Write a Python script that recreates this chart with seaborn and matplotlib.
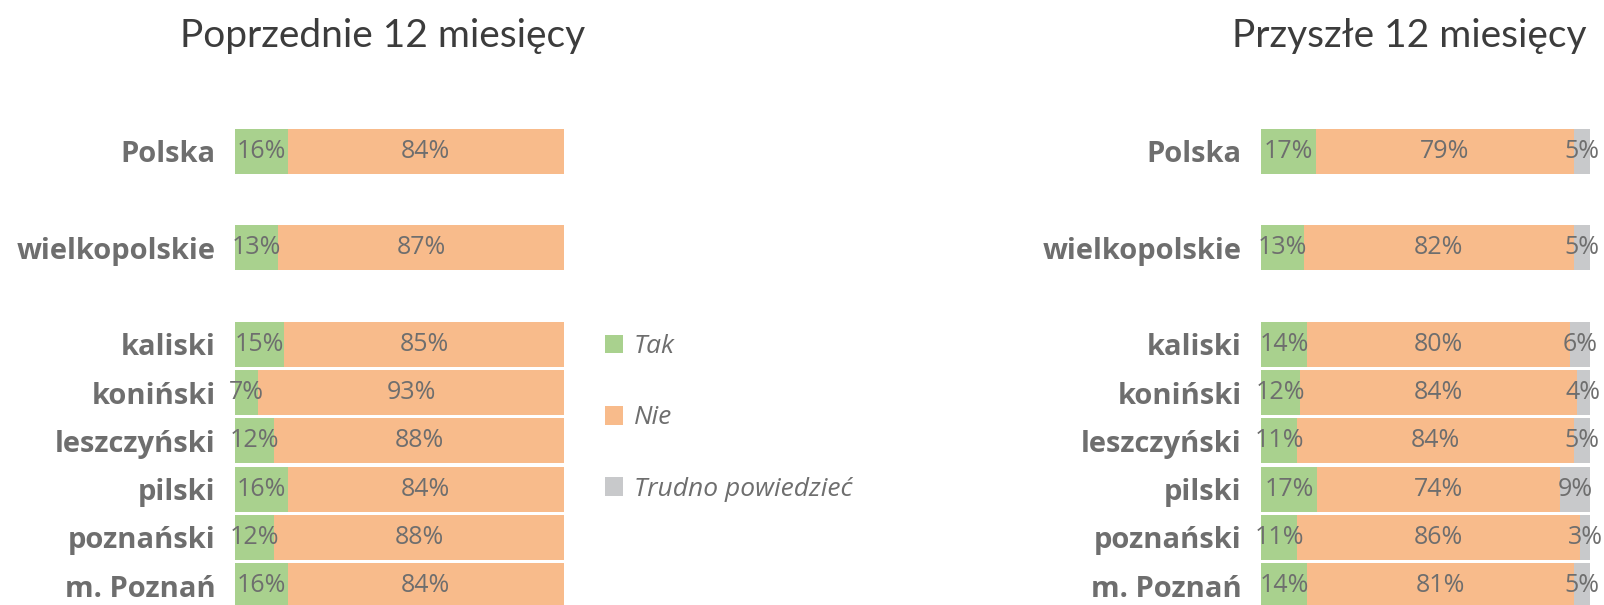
"""
Stacked horizontal bars: previous vs next 12 months, by subregion.
"""

import pandas as pd
import matplotlib.pyplot as plt
import seaborn as sns
from matplotlib.patches import Patch

# Data
regions = ["Polska", "wielkopolskie", "kaliski", "koniński",
           "leszczyński", "pilski", "poznański", "m. Poznań"]
# empty slots give the gaps after Polska and wielkopolskie
slot_order = ["Polska", "", "wielkopolskie", " ", "kaliski", "koniński",
              "leszczyński", "pilski", "poznański", "m. Poznań"]

prev_tak = [16, 13, 15, 7, 12, 16, 12, 16]
prev_nie = [84, 87, 85, 93, 88, 84, 88, 84]
prev_trudno = [0, 0, 0, 0, 0, 0, 0, 0]

next_tak = [17, 13, 14, 12, 11, 17, 11, 14]
next_nie = [79, 82, 80, 84, 84, 74, 86, 81]
next_trudno = [5, 5, 6, 4, 5, 9, 3, 5]

series_names = ["Tak", "Nie", "Trudno powiedzieć"]
colors = ["#A9D18E", "#F8BB8B", "#C8C9CB"]
text_gray = "#6E6E6E"

sns.set_theme(style="white")
plt.rcParams["font.family"] = ["Open Sans", "DejaVu Sans"]


def draw_panel(ax, tak, nie, trudno):
    df = pd.DataFrame({"region": regions, "tak": tak, "nie": nie, "trudno": trudno})
    total = df["tak"] + df["nie"] + df["trudno"]
    # cumulative shares so each bar fills 0-100
    df["c1"] = df["tak"] / total * 100
    df["c2"] = (df["tak"] + df["nie"]) / total * 100
    df["c3"] = 100.0

    for col, color in [("c3", colors[2]), ("c2", colors[1]), ("c1", colors[0])]:
        sns.barplot(data=df, y="region", x=col, order=slot_order, color=color,
                    saturation=1, width=0.93, errorbar=None, linewidth=0, ax=ax)

    # value labels centred in each segment
    for _, row in df.iterrows():
        y = slot_order.index(row["region"])
        segs = [(0, row["c1"], row["tak"]),
                (row["c1"], row["c2"], row["nie"]),
                (row["c2"], row["c3"], row["trudno"])]
        for start, end, val in segs:
            if val > 0:
                ax.text((start + end) / 2, y, f"{val}%", ha="center", va="center",
                        fontsize=18, color=text_gray)

    ax.set_xlim(0, 100)
    ax.set_ylim(9.4, -0.5)
    ax.set_xlabel("")
    ax.set_ylabel("")
    ax.set_xticks([])
    ax.tick_params(axis="y", length=0, pad=14)
    for lbl in ax.get_yticklabels():
        lbl.set_fontsize(21)
        lbl.set_fontweight("bold")
        lbl.set_color(text_gray)
    sns.despine(ax=ax, left=True, bottom=True)


fig = plt.figure(figsize=(16.04, 6.05), dpi=100)
ax_left = fig.add_axes([235 / 1604, 0, 329 / 1604, 478 / 605])
ax_right = fig.add_axes([1261 / 1604, 0, 329 / 1604, 478 / 605])

draw_panel(ax_left, prev_tak, prev_nie, prev_trudno)
draw_panel(ax_right, next_tak, next_nie, next_trudno)

title_font = ["Lato", "DejaVu Sans"]
fig.text(383 / 1604, 1 - 36 / 605, "Poprzednie 12 miesięcy", ha="center", va="center",
         fontsize=28, fontweight="normal", color="#3C3C3C", family=title_font)
fig.text(1586 / 1604, 1 - 36 / 605, "Przyszłe 12 miesięcy", ha="right", va="center",
         fontsize=28, fontweight="normal", color="#3C3C3C", family=title_font)

handles = [Patch(facecolor=c, edgecolor="none") for c in colors]
fig.legend(handles, series_names, loc="center left",
           bbox_to_anchor=(581 / 1604, 1 - 418 / 605), frameon=False,
           prop={"style": "italic", "size": 19}, labelcolor=text_gray,
           handlelength=0.7, handleheight=0.7, handletextpad=0.4, labelspacing=1.75)

plt.savefig("out.png", dpi=100)
